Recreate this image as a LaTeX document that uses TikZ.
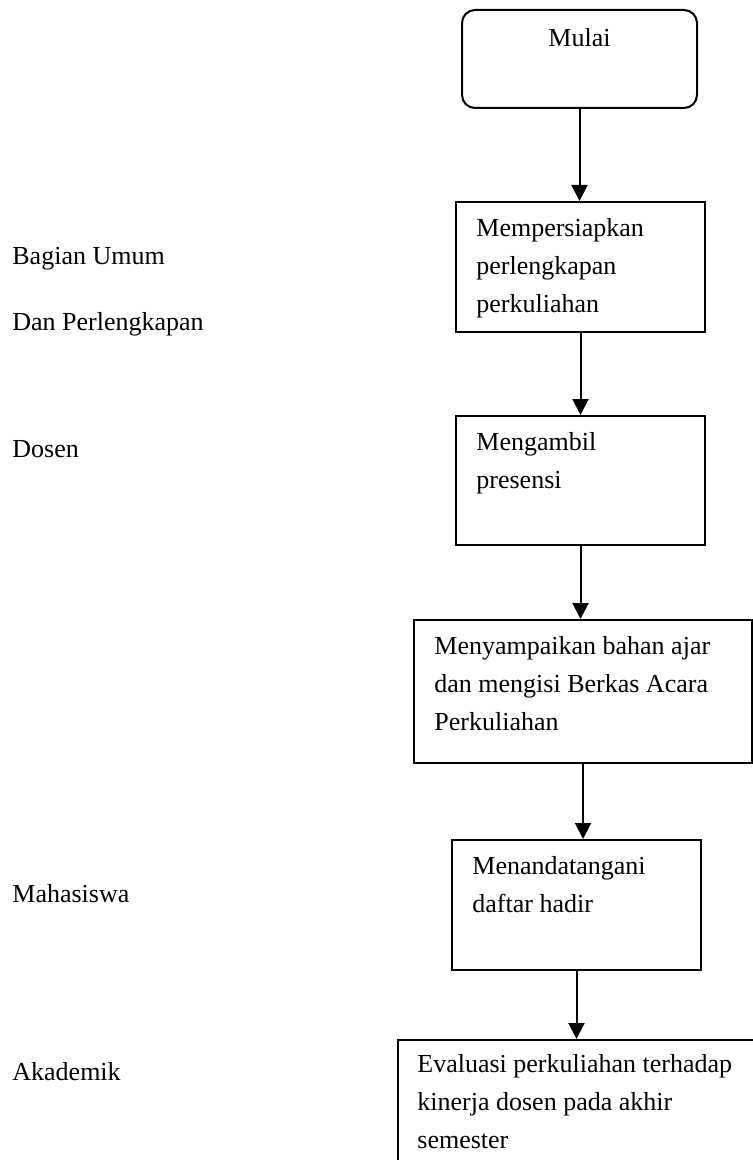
\documentclass[tikz,border=0pt]{standalone}
\usepackage{fontspec}
\setmainfont{Liberation Serif}
\usetikzlibrary{positioning,arrows.meta}

\begin{document}
\begin{tikzpicture}[
    x=0.5pt,
    y=-0.5pt,
    font=\fontsize{13}{19}\selectfont,
    >={Triangle[length=8pt,width=8pt]},
    start/.style={
        draw,
        line width=1pt,
        rounded corners=6.5pt,
        minimum width=117.5pt,
        minimum height=49pt,
        inner sep=0pt
    },
    block/.style={
        draw,
        line width=1pt,
        inner sep=0pt
    },
    boxtext/.style={
        inner sep=0pt,
        align=flush left,
        text width=175pt,
        anchor=base west
    },
    lane/.style={
        inner sep=0pt,
        anchor=base west
    },
    arrow/.style={
        ->,
        line width=1pt
    }
]
\useasboundingbox (0,0) rectangle (753,1160);
\clip (0,0) rectangle (753,1160);

% left column
\node[lane] (umum) at (12,265) {Bagian Umum};
\node[lane] (lengkap) at (12,330) {Dan Perlengkapan};
\node[lane] (dosen) at (12,457) {Dosen};
\node[lane] (mhs) at (12,902) {Mahasiswa};
\node[lane] (akademik) at (12,1080) {Akademik};

% flow boxes
\node[start] (mulai) at (579.5,59) {};
\node[block, minimum width=124.5pt, minimum height=65pt] (siap) at (580.5,267) {};
\node[block, minimum width=124.5pt, minimum height=64.5pt] (presensi) at (580.5,480.5) {};
\node[block, minimum width=169pt, minimum height=71.5pt] (bahan) at (583,691.5) {};
\node[block, minimum width=124.5pt, minimum height=65pt] (hadir) at (576.5,905) {};
\node[block, minimum width=200pt, minimum height=75pt] (evaluasi) at (598,1115) {};

% texts
\node[lane, anchor=base] (mulaitxt) at ([yshift=-19pt]mulai.north) {Mulai};
\node[boxtext] (siaptxt) at ([xshift=10.5pt, yshift=-18pt]siap.north west) {Mempersiapkan\\perlengkapan\\perkuliahan};
\node[boxtext] (presensitxt) at ([xshift=10.5pt, yshift=-17.5pt]presensi.north west) {Mengambil\\presensi};
\node[boxtext] (bahantxt) at ([xshift=10.5pt, yshift=-17.5pt]bahan.north west) {Menyampaikan bahan ajar\\dan mengisi Berkas Acara\\Perkuliahan};
\node[boxtext] (hadirtxt) at ([xshift=10.5pt, yshift=-17.5pt]hadir.north west) {Menandatangani\\daftar hadir};
\node[boxtext] (evaluasitxt) at ([xshift=10pt, yshift=-16.5pt]evaluasi.north west) {Evaluasi perkuliahan terhadap\\kinerja dosen pada akhir\\semester};

% arrows
\draw[arrow] (mulai.south) -- (mulai.south |- siap.north);
\draw[arrow] (siap.south) -- (siap.south |- presensi.north);
\draw[arrow] (presensi.south) -- (presensi.south |- bahan.north);
\draw[arrow] (bahan.south) -- (bahan.south |- hadir.north);
\draw[arrow] (hadir.south) -- (hadir.south |- evaluasi.north);

\end{tikzpicture}
\end{document}
